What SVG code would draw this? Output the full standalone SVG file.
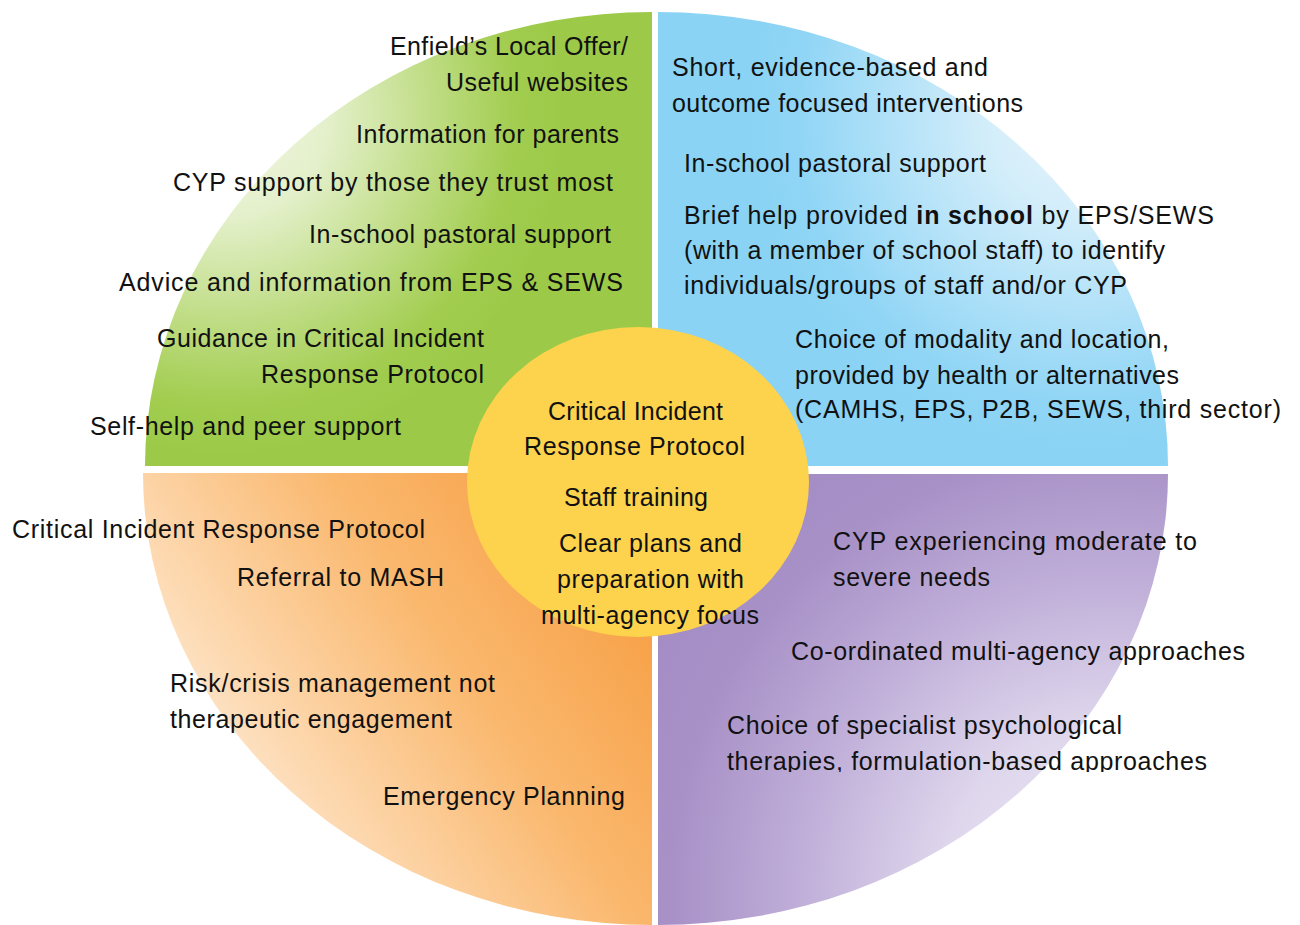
<svg xmlns="http://www.w3.org/2000/svg" width="1300" height="925" viewBox="0 0 1300 925">
<style>
text{font-family:"Liberation Sans",Arial,sans-serif;font-size:25px;fill:#111;}
.b{font-weight:bold;}
</style>
<defs>
<radialGradient id="gG" gradientUnits="userSpaceOnUse" cx="225" cy="115" r="340">
<stop offset="0" stop-color="#F3F8E8"/><stop offset="0.3" stop-color="#E4F0CB"/><stop offset="0.6" stop-color="#C0DD86"/><stop offset="0.85" stop-color="#A2CD50"/><stop offset="1" stop-color="#9CCA48"/>
</radialGradient>
<radialGradient id="gB" gradientUnits="userSpaceOnUse" cx="1085" cy="115" r="340">
<stop offset="0" stop-color="#EAF6FD"/><stop offset="0.3" stop-color="#D2EDFA"/><stop offset="0.6" stop-color="#AEE0F8"/><stop offset="0.85" stop-color="#90D5F5"/><stop offset="1" stop-color="#8AD3F4"/>
</radialGradient>
<linearGradient id="gO" gradientUnits="userSpaceOnUse" x1="220" y1="830" x2="620" y2="560">
<stop offset="0" stop-color="#FEEEDC"/><stop offset="0.2" stop-color="#FDDAB3"/><stop offset="0.6" stop-color="#FAB86E"/><stop offset="1" stop-color="#F7A046"/>
</linearGradient>
<radialGradient id="gP" gradientUnits="userSpaceOnUse" cx="1110" cy="890" r="560">
<stop offset="0" stop-color="#F0ECF6"/><stop offset="0.3" stop-color="#DED6EC"/><stop offset="0.55" stop-color="#C0AFD9"/><stop offset="0.78" stop-color="#A891C7"/><stop offset="1" stop-color="#A28BC3"/>
</radialGradient>
<clipPath id="cut"><rect x="0" y="0" width="1300" height="772"/></clipPath>
</defs>
<rect width="1300" height="925" fill="#fff"/>

<g id="q-universal">
<path d="M652,466 L145,466 A507,454 0 0 1 652,12 Z" fill="url(#gG)"/>
<text x="390" y="55" textLength="238">Enfield’s Local Offer/</text>
<text x="446" y="91" textLength="182">Useful websites</text>
<text x="356" y="143" textLength="263">Information for parents</text>
<text x="173" y="191" textLength="440">CYP support by those they trust most</text>
<text x="309" y="243" textLength="302">In-school pastoral support</text>
<text x="119" y="291" textLength="504">Advice and information from EPS &amp; SEWS</text>
<text x="157" y="347" textLength="327">Guidance in Critical Incident</text>
<text x="261" y="383" textLength="223">Response Protocol</text>
<text x="90" y="435" textLength="311">Self-help and peer support</text>
</g>

<g id="q-targeted">
<path d="M658,466 L658,12 A510,454 0 0 1 1168,466 Z" fill="url(#gB)"/>
<text x="672" y="76" textLength="316">Short, evidence-based and</text>
<text x="672" y="112" textLength="351">outcome focused interventions</text>
<text x="684" y="172" textLength="302">In-school pastoral support</text>
<text x="684" y="224" textLength="530">Brief help provided <tspan class="b">in school</tspan> by EPS/SEWS</text>
<text x="684" y="259" textLength="481">(with a member of school staff) to identify</text>
<text x="684" y="294" textLength="443">individuals/groups of staff and/or CYP</text>
<text x="795" y="348" textLength="374">Choice of modality and location,</text>
<text x="795" y="384" textLength="384">provided by health or alternatives</text>
<text x="795" y="418" textLength="486">(CAMHS, EPS, P2B, SEWS, third sector)</text>
</g>

<g id="q-crisis">
<path d="M652,473 L143,473 A509,452 0 0 0 652,925 Z" fill="url(#gO)"/>
<text x="12" y="538" textLength="413">Critical Incident Response Protocol</text>
<text x="237" y="586" textLength="207">Referral to MASH</text>
<text x="170" y="692" textLength="325">Risk/crisis management not</text>
<text x="170" y="728" textLength="282">therapeutic engagement</text>
<text x="383" y="805" textLength="242">Emergency Planning</text>
</g>

<g id="q-specialist">
<path d="M658,474 L1168,474 A510,451 0 0 1 658,925 Z" fill="url(#gP)"/>
<text x="833" y="550" textLength="364">CYP experiencing moderate to</text>
<text x="833" y="586" textLength="157">severe needs</text>
<text x="791" y="660" textLength="454">Co-ordinated multi-agency approaches</text>
<text x="727" y="734" textLength="395">Choice of specialist psychological</text>
<text x="727" y="770" textLength="480" clip-path="url(#cut)">therapies, formulation-based approaches</text>
</g>

<g id="centre">
<ellipse cx="638" cy="482" rx="171" ry="155" fill="#FDD34D"/>
<text x="548" y="420" textLength="175">Critical Incident</text>
<text x="524" y="455" textLength="221">Response Protocol</text>
<text x="564" y="506" textLength="144">Staff training</text>
<text x="559" y="552" textLength="183">Clear plans and</text>
<text x="557" y="588" textLength="187">preparation with</text>
<text x="541" y="624" textLength="218">multi-agency focus</text>
</g>
</svg>
